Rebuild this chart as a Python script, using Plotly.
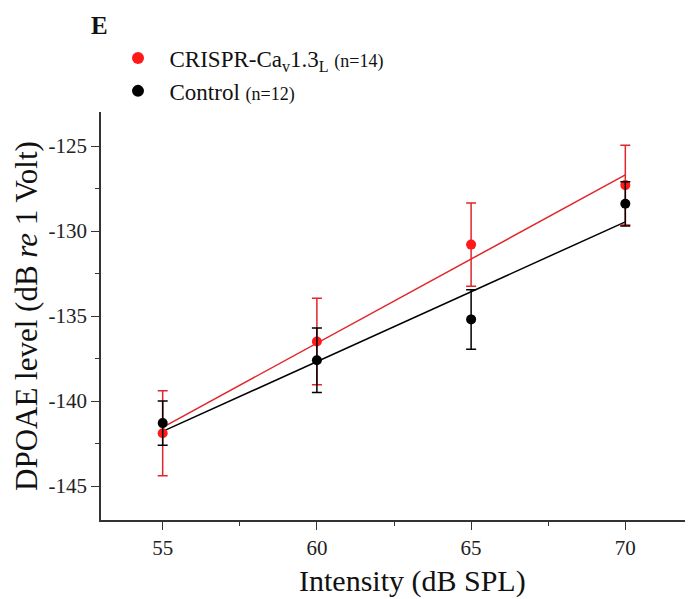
import numpy as np
import plotly.graph_objects as go

intensity = [55, 60, 65, 70]
crispr_mean = [-141.9, -136.5, -130.8, -127.3]
crispr_err = [2.5, 2.55, 2.45, 2.35]
control_mean = [-141.3, -137.6, -135.2, -128.4]
control_err = [1.3, 1.9, 1.75, 1.3]

x_ticks = [55, 60, 65, 70]
y_ticks = [-145, -140, -135, -130, -125]
y_tick_labels = ["-145", "-140", "-135", "-130", "-125"]

RED = "#ff1a1a"
RED_LINE = "#e0262b"
BLACK = "#000000"
FONT = "Liberation Serif"

fig = go.Figure()

xs = np.array(intensity, dtype=float)
for mean, color, lcolor in [(crispr_mean, RED, RED_LINE), (control_mean, BLACK, BLACK)]:
    k, b = np.polyfit(xs, np.array(mean), 1)
    fx = [xs.min(), xs.max()]
    fig.add_trace(go.Scatter(x=fx, y=[k * v + b for v in fx], mode="lines",
                             line=dict(color=lcolor, width=1.5), showlegend=False,
                             hoverinfo="skip"))

fig.add_trace(go.Scatter(
    x=intensity, y=crispr_mean, mode="markers",
    name="&nbsp;&nbsp;CRISPR-Ca<sub>v</sub>1.3<sub>L</sub> <span style='font-size:18px'>(n=14)</span>",
    marker=dict(color=RED, size=10),
    error_y=dict(type="data", array=crispr_err, visible=True, color=RED_LINE,
                 thickness=1.5, width=5),
))
fig.add_trace(go.Scatter(
    x=intensity, y=control_mean, mode="markers",
    name="&nbsp;&nbsp;Control <span style='font-size:18px'>(n=12)</span>",
    marker=dict(color=BLACK, size=10),
    error_y=dict(type="data", array=control_err, visible=True, color=BLACK,
                 thickness=1.5, width=5),
))

axis_common = dict(showline=True, linecolor="#333", linewidth=1.5, ticks="outside",
                   ticklen=8, tickwidth=1.2, tickcolor="#333", showgrid=False,
                   zeroline=False, tickfont=dict(family=FONT, size=21, color="#222"))

fig.update_xaxes(range=[53, 72], tickvals=x_ticks,
                 minor=dict(dtick=2.5, tick0=52.5, ticks="outside", ticklen=4,
                            tickcolor="#333", tickwidth=1.2),
                 **axis_common)
fig.update_yaxes(range=[-147, -123], tickvals=y_ticks, ticktext=y_tick_labels,
                 minor=dict(dtick=2.5, tick0=-147.5, ticks="outside", ticklen=4,
                            tickcolor="#333", tickwidth=1.2),
                 **axis_common)

# axis titles placed as annotations to match the reference's positions
fig.add_annotation(text="Intensity (dB SPL)", xref="paper", yref="paper",
                   x=0.531, y=-0.15, xanchor="center", yanchor="middle", showarrow=False,
                   font=dict(family=FONT, size=30, color="#111"))
fig.add_annotation(text="DPOAE level (dB <i>re</i> 1 Volt)", xref="paper", yref="paper",
                   x=-0.128, y=0.5, xanchor="center", yanchor="middle", showarrow=False,
                   textangle=-90, font=dict(family=FONT, size=31, color="#111"))

fig.add_annotation(text="<b>E</b>", xref="paper", yref="paper", x=-0.021, y=1.213,
                   xanchor="left", yanchor="middle", showarrow=False,
                   font=dict(family=FONT, size=25, color="#111"))

# page body adds an 8px offset; compensate so the plot lands where the reference has it
fig.update_layout(
    width=685, height=591,
    margin=dict(l=93, r=6, t=104, b=79, autoexpand=False),
    paper_bgcolor="white", plot_bgcolor="white",
    showlegend=True,
    legend=dict(x=0.029, y=1.185, xanchor="left", yanchor="top",
                bgcolor="rgba(0,0,0,0)", font=dict(family=FONT, size=23, color="#111"),
                tracegroupgap=0, itemsizing="constant"),
)

fig.write_html("out.html")
